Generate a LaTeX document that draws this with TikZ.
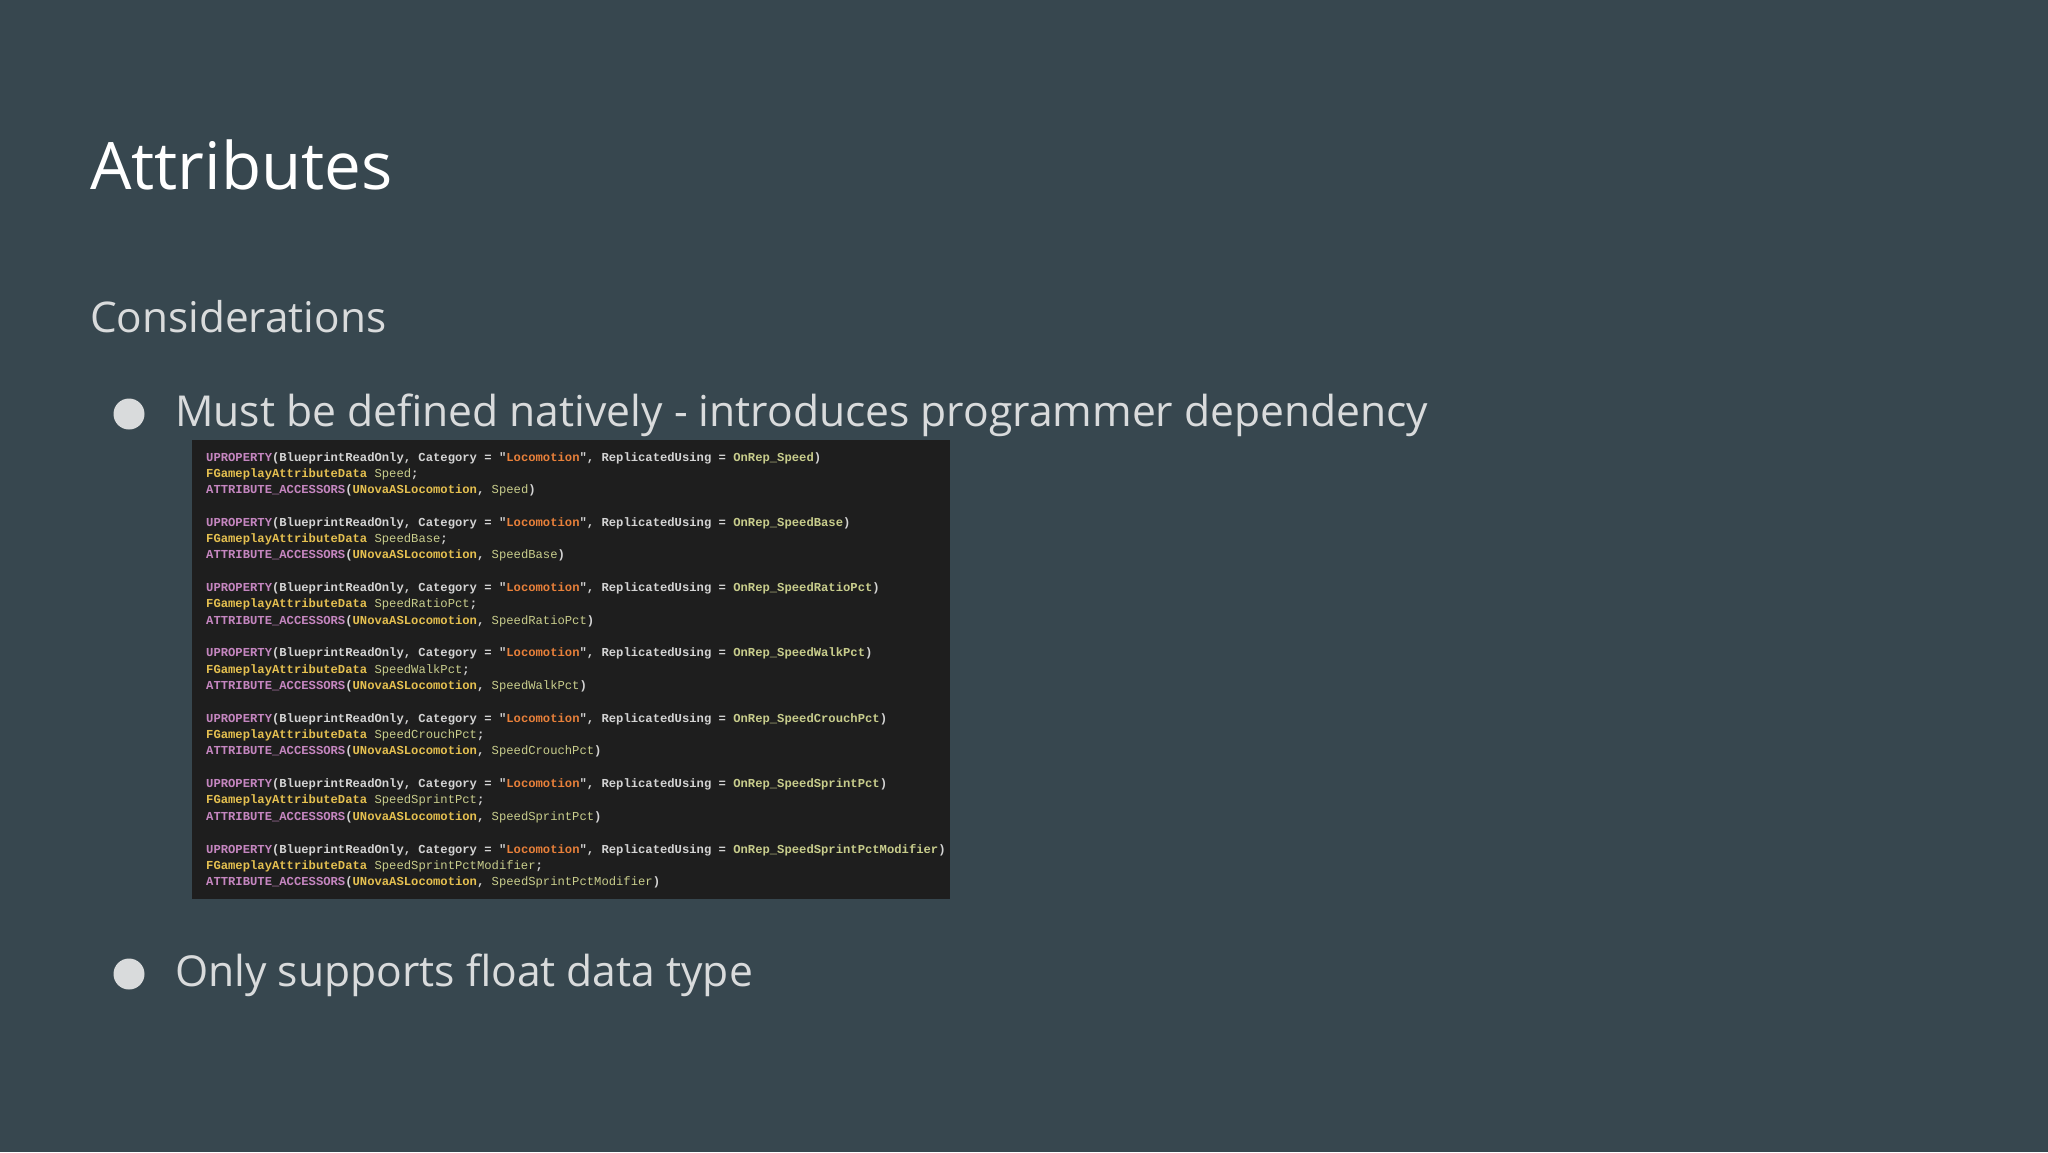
\documentclass[tikz,border=0pt]{standalone}
\usepackage{fontspec}
\setmainfont{Open Sans}
\newfontfamily\codefont{Liberation Mono}
\definecolor{bgc}{RGB}{55,71,79}
\definecolor{txt}{RGB}{217,219,220}
\definecolor{codebg}{RGB}{30,30,30}
\definecolor{kw}{RGB}{197,134,192}
\definecolor{pl}{RGB}{212,212,212}
\definecolor{st}{RGB}{232,128,58}
\definecolor{ty}{RGB}{229,192,80}
\definecolor{idn}{RGB}{200,205,140}
\newcommand{\codegroup}[3]{%
\textcolor{kw}{UPROPERTY}\textcolor{pl}{(BlueprintReadOnly, Category = "}\textcolor{st}{Locomotion}\textcolor{pl}{", ReplicatedUsing = }\textcolor{idn}{#1}\textcolor{pl}{)}\\
\textcolor{ty}{FGameplayAttributeData} \textcolor{idn}{\mdseries #2}\textcolor{pl}{;}\\
\textcolor{kw}{ATTRIBUTE\_ACCESSORS}\textcolor{pl}{(}\textcolor{ty}{UNovaASLocomotion}\textcolor{pl}{, }\textcolor{idn}{\mdseries #3}\textcolor{pl}{)}}
\tikzset{
  bul/.style={circle,fill=txt,minimum size=31pt,inner sep=0pt},
  btext/.style={anchor=west,text=txt,font=\fontsize{42.6}{52}\selectfont,inner sep=0pt},
  cg/.style={anchor=north west,inner sep=0pt,align=left,font=\codefont\bfseries\fontsize{12.2}{16.3}\selectfont}
}
\begin{document}
\begin{tikzpicture}[x=1pt,y=1pt]
\fill[bgc] (0,0) rectangle (2048,-1152);
\useasboundingbox (0,0) rectangle (2048,-1152);
\node[anchor=base west,inner sep=0pt,text=white,font=\fontsize{65.5}{78}\selectfont] (title) at (90,-189) {Attributes};
\node[anchor=west,inner sep=0pt,text=txt,font=\fontsize{42.3}{52}\selectfont] (cons) at (90,-317) {Considerations};
\node[bul] (b1) at (129,-414) {};
\node[btext] (t1) at (175,-415) {Must be defined natively - introduces programmer dependency};
\fill[codebg] (192,-440) rectangle (950,-899);
\foreach \i/\a in {0/Speed,1/SpeedBase,2/SpeedRatioPct,3/SpeedWalkPct,4/SpeedCrouchPct,5/SpeedSprintPct,6/SpeedSprintPctModifier}{
  \node[cg] (g\i) at (206,{-452-65.3*\i}) {\codegroup{OnRep\_\a}{\a}{\a}};
}
\node[bul] (b2) at (129,-974) {};
\node[btext] (t2) at (175,-975) {Only supports float data type};
\end{tikzpicture}
\end{document}
